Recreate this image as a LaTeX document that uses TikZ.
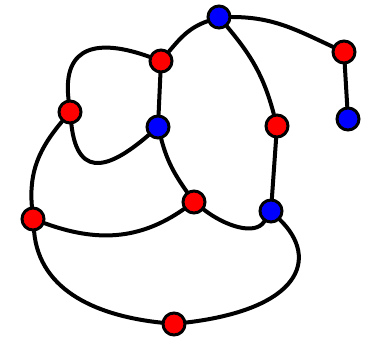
\documentclass[tikz,border=0pt]{standalone}
\usepackage{tikz}
\usetikzlibrary{positioning,calc}

\begin{document}
\begin{tikzpicture}[
    x=1pt, y=1pt,
    vert/.style={circle, draw=black, line width=3pt, minimum size=22pt, inner sep=0pt},
    rnode/.style={vert, fill=red},
    bnode/.style={vert, fill=blue},
    edge/.style={draw=black, line width=4pt, line cap=round}
]
\useasboundingbox (0,0) rectangle (373,344);

\node[bnode] (peak) at (219,327) {};
\node[rnode] (ear) at (344,292) {};
\node[bnode] (tip) at (348,225) {};
\node[rnode] (crown) at (161,283) {};
\node[rnode] (west) at (70,232) {};
\node[bnode] (inner) at (158,217) {};
\node[rnode] (east) at (277,218) {};
\node[rnode] (mid) at (194,142) {};
\node[bnode] (hub) at (271,133) {};
\node[rnode] (left) at (33,125) {};
\node[rnode] (base) at (174,20) {};

\draw[edge] (peak) to[out=0, in=155] (ear);
\draw[edge] (ear) -- (tip);
\draw[edge] (peak) to[out=200, in=50] (crown);
\draw[edge] (peak) to[out=-50, in=105] (east);
\draw[edge] (crown) .. controls (100,305) and (62,300) .. (west);
\draw[edge] (crown) -- (inner);
\draw[edge] (west) .. controls (78,160) and (115,180) .. (inner);
\draw[edge] (west) to[out=230, in=95] (left);
\draw[edge] (inner) to[out=-75, in=125] (mid);
\draw[edge] (east) -- (hub);
\draw[edge] (left) to[out=-20, in=215] (mid);
\draw[edge] (mid) .. controls (225,118) and (255,108) .. (hub);
\draw[edge] (hub) .. controls (320,85) and (300,35) .. (base);
\draw[edge] (left) to[out=-85, in=174] (base);

\end{tikzpicture}
\end{document}
